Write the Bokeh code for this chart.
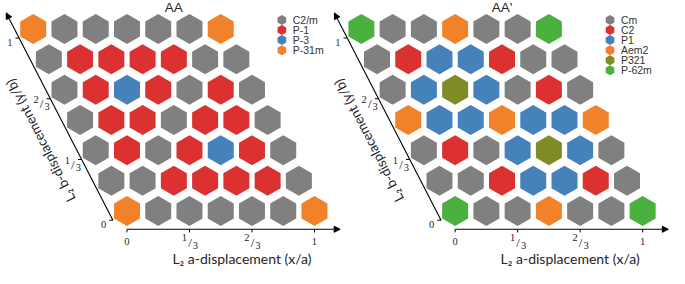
import numpy as np
from bokeh.plotting import figure
from bokeh.models import Range1d, Arrow, NormalHead
from bokeh.embed import file_html
from bokeh.resources import INLINE
from bokeh.core.properties import value

# ---------------- data ----------------
steps = [0, 1/6, 2/6, 3/6, 4/6, 5/6, 1]          # displacement grid (fraction of a and b)
tick_vals = [0, 1/3, 2/3, 1]
tick_labels = ["0", "1/3", "2/3", "1"]

aa_title = "AA"
aa_categories = ["C2/m", "P-1", "P-3", "P-31m"]
aa_colors = ["#808080", "#db3131", "#4581ba", "#f2822a"]
aa_rows = [   # top row (y/b = 1) first; each row x/a = 0 .. 1
    ["P-31m", "C2/m", "C2/m", "C2/m", "C2/m", "C2/m", "P-31m"],
    ["C2/m", "P-1", "P-1", "P-1", "P-1", "C2/m", "C2/m"],
    ["C2/m", "P-1", "P-3", "P-1", "C2/m", "P-1", "C2/m"],
    ["C2/m", "P-1", "P-1", "C2/m", "P-1", "P-1", "C2/m"],
    ["C2/m", "P-1", "C2/m", "P-1", "P-3", "P-1", "C2/m"],
    ["C2/m", "C2/m", "P-1", "P-1", "P-1", "P-1", "C2/m"],
    ["P-31m", "C2/m", "C2/m", "C2/m", "C2/m", "C2/m", "P-31m"],
]

aap_title = "AA'"
aap_categories = ["Cm", "C2", "P1", "Aem2", "P321", "P-62m"]
aap_colors = ["#808080", "#db3131", "#4581ba", "#f2822a", "#818b26", "#4bb13e"]
aap_rows = [
    ["P-62m", "Cm", "Cm", "Aem2", "Cm", "Cm", "P-62m"],
    ["Cm", "C2", "P1", "P1", "C2", "Cm", "Cm"],
    ["Cm", "P1", "P321", "P1", "Cm", "C2", "Cm"],
    ["Aem2", "P1", "P1", "Aem2", "P1", "P1", "Aem2"],
    ["Cm", "C2", "Cm", "P1", "P321", "P1", "Cm"],
    ["Cm", "Cm", "C2", "P1", "P1", "C2", "Cm"],
    ["P-62m", "Cm", "Cm", "Aem2", "Cm", "Cm", "P-62m"],
]

x_label = "L\u2082 a-displacement (x/a)"
y_label = "L\u2082 b-displacement (y/b)"

# ---------------- layout / style ----------------
SHEAR = 0.5          # hexagonal lattice: b is at 120 deg to a
AX_OFF = -0.10       # axes drawn slightly outside the lattice
W, H = 669, 268
TXT = "#262626"
SANS = "Liberation Sans"
SERIF = "Liberation Serif"
LABEL_FONT = "Lato"
LEG_X, LEG_Y, LEG_STEP, LEG_TXT_DX = 0.826, 1.049, 0.0552, 0.058

p = figure(width=W, height=H, output_backend="svg", toolbar_location=None,
           x_axis_type=None, y_axis_type=None, min_border=0,
           x_range=Range1d(-0.6745, 2.8932), y_range=Range1d(-0.3153, 1.1561))
p.extra_x_ranges = {"right": Range1d(-2.4245, 1.1432)}
p.xgrid.visible = False
p.ygrid.visible = False
p.outline_line_color = None
p.background_fill_color = "white"


def shear(x, y):
    return x - SHEAR * y


def draw_panel(title, cats, colors, rows, rname):
    # hexagon cells
    xs, ys, cs = [], [], []
    n = len(rows)
    for r, row in enumerate(rows):
        yv = steps[n - 1 - r]
        for i, c in enumerate(row):
            xs.append(shear(steps[i], yv))
            ys.append(yv)
            cs.append(c)
    xs, ys, cs = np.array(xs), np.array(ys), np.array(cs)
    for cat, col in zip(cats, colors):
        m = cs == cat
        p.scatter(x=xs[m], y=ys[m], marker="hex", size=30, angle=np.pi / 2,
                  fill_color=col, line_color=None, x_range_name=rname)

    # legend
    ly = [LEG_Y - k * LEG_STEP for k in range(len(cats))]
    p.scatter(x=[LEG_X] * len(cats), y=ly, marker="hex", size=10, angle=np.pi / 2,
              fill_color=colors, line_color=None, x_range_name=rname)
    p.text(x=[LEG_X + LEG_TXT_DX] * len(cats), y=ly, text=cats, x_range_name=rname,
           text_align="left", text_baseline="middle", text_color="#333333",
           text_font=value(SANS), text_font_size=value("10.5px"))

    # title
    p.text(x=[shear(0.5, 0.5)], y=[1.116], text=[title], x_range_name=rname,
           text_align="center", text_baseline="middle", text_color=TXT,
           text_font=value(SANS), text_font_size=value("13.5px"))

    # x axis (horizontal)
    p.add_layout(Arrow(x_start=0, y_start=AX_OFF, x_end=1.137, y_end=AX_OFF,
                       line_color="black", line_width=1.1,
                       end=NormalHead(size=6, fill_color="black", line_color="black"),
                       x_range_name=rname))
    p.segment(x0=tick_vals, y0=[AX_OFF] * 4, x1=tick_vals, y1=[AX_OFF - 0.017] * 4,
              line_color="black", line_width=1, x_range_name=rname)

    # y axis (along b, skewed)
    y0, y1 = -0.05, 1.088
    p.add_layout(Arrow(x_start=AX_OFF - SHEAR * y0, y_start=y0,
                       x_end=AX_OFF - SHEAR * y1, y_end=y1,
                       line_color="black", line_width=1.1,
                       end=NormalHead(size=6, fill_color="black", line_color="black"),
                       x_range_name=rname))
    yt = [t - 0.05 for t in tick_vals]
    ytx = [AX_OFF - SHEAR * v for v in yt]
    p.segment(x0=ytx, y0=yt, x1=[v - 0.02 for v in ytx], y1=yt,
              line_color="black", line_width=1, x_range_name=rname)

    # tick labels
    def tick_text(xc, yc, lab):
        common = dict(x_range_name=rname, text_align="center", text_baseline="middle",
                      text_color=TXT, text_font=value(SERIF))
        if "/" in lab:
            num, den = lab.split("/")
            p.text(x=[xc], y=[yc], text=[num], x_offset=-5, y_offset=-4,
                   text_font_size=value("10.5px"), **common)
            p.text(x=[xc], y=[yc], text=["/"], x_offset=0.5, y_offset=0.5,
                   text_font_size=value("13px"), **common)
            p.text(x=[xc], y=[yc], text=[den], x_offset=6, y_offset=3.5,
                   text_font_size=value("10.5px"), **common)
        else:
            p.text(x=[xc], y=[yc], text=[lab], text_font_size=value("10.5px"), **common)

    for t, lab in zip(tick_vals, tick_labels):
        tick_text(t, -0.168, lab)
    for xv, yv, lab in zip(ytx, yt, tick_labels):
        tick_text(xv - 0.05, yv - 0.026, lab)

    # axis titles
    p.text(x=[0.613], y=[-0.263], text=[x_label], x_range_name=rname,
           text_align="center", text_baseline="middle", text_color=TXT,
           text_font=value(LABEL_FONT), text_font_size=value("14px"))
    p.text(x=[-0.461], y=[0.387], text=[y_label], x_range_name=rname,
           angle=np.deg2rad(117.2),
           text_align="center", text_baseline="middle", text_color=TXT,
           text_font=value(LABEL_FONT), text_font_size=value("13.5px"))


draw_panel(aa_title, aa_categories, aa_colors, aa_rows, "default")
draw_panel(aap_title, aap_categories, aap_colors, aap_rows, "right")

open("out.html", "w").write(file_html(p, INLINE))
